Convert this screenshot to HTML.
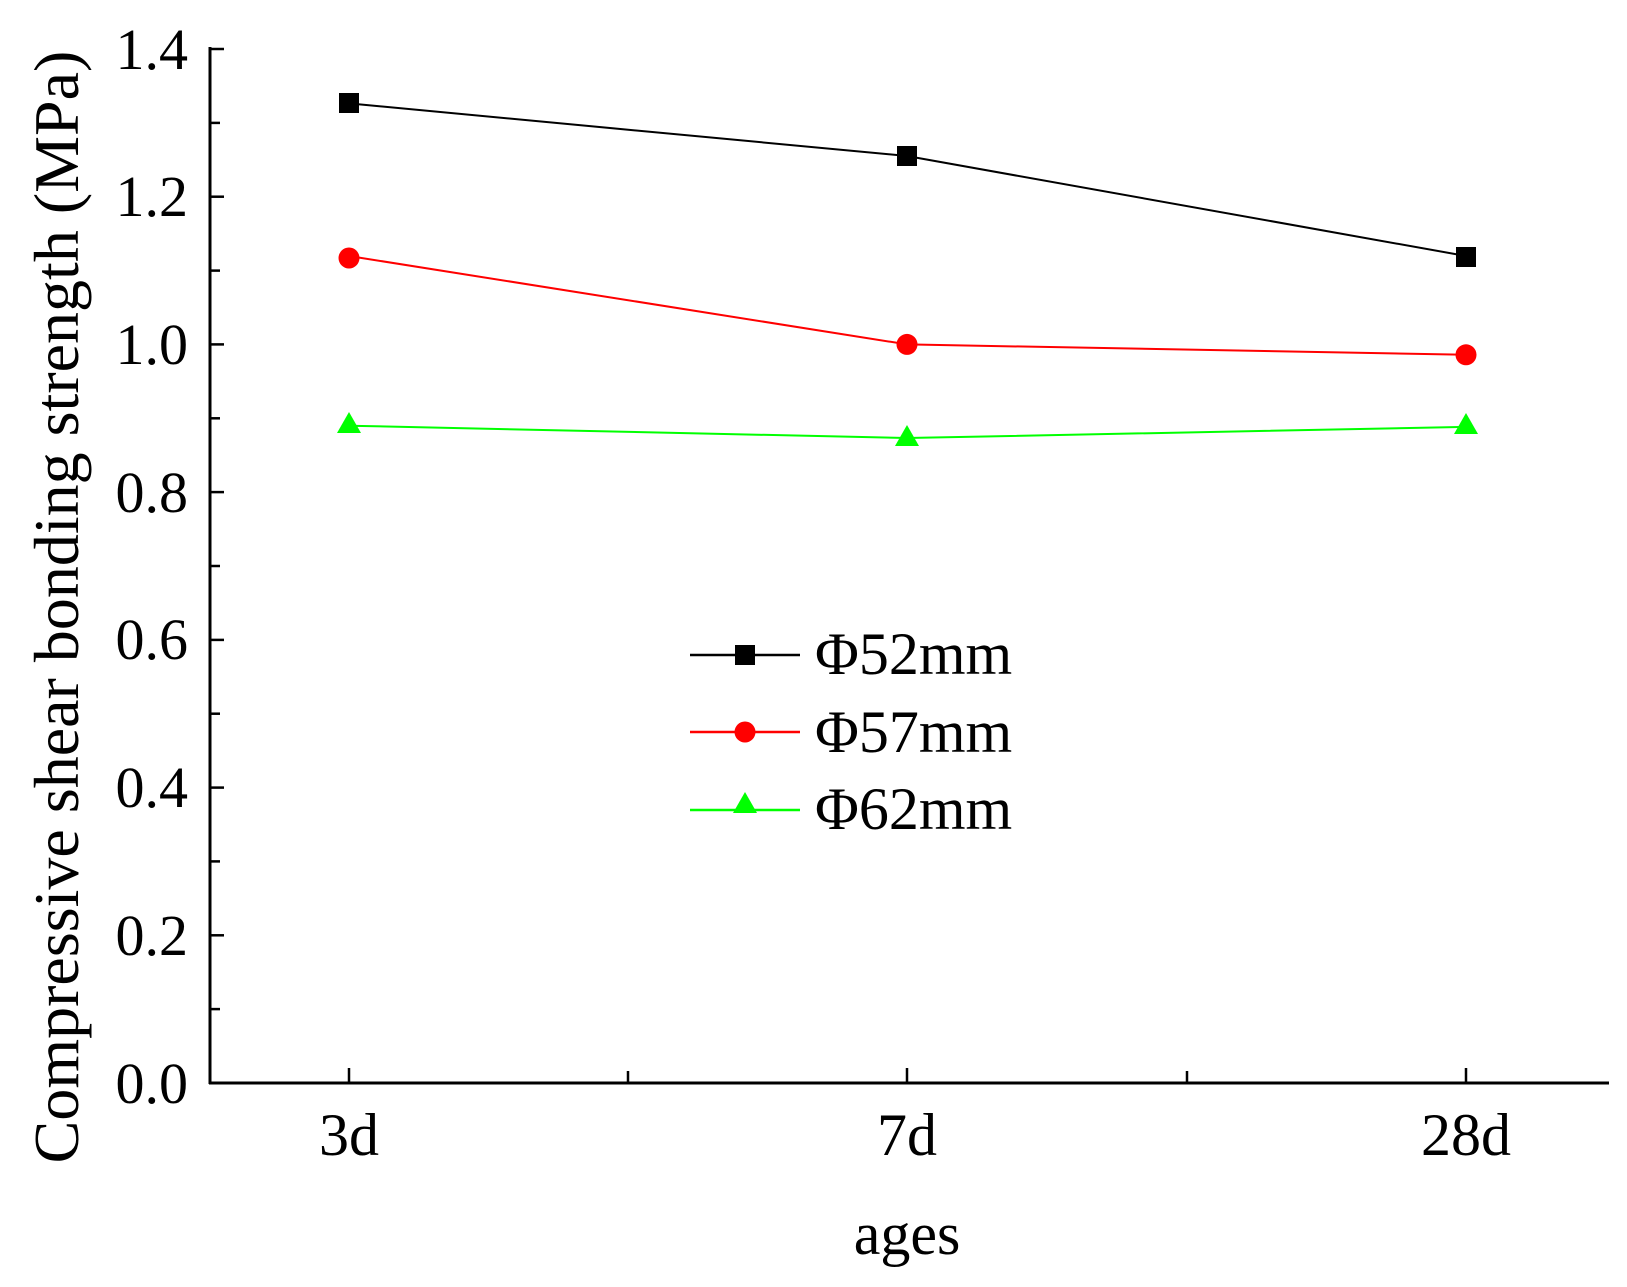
<!DOCTYPE html>
<html><head><meta charset="utf-8"><style>
html,body{margin:0;padding:0;background:#fff;}
svg{display:block;font-family:"Liberation Serif",serif;}
</style></head><body>
<svg width="1627" height="1287" viewBox="0 0 1627 1287" xmlns="http://www.w3.org/2000/svg">
<g stroke="#000" stroke-width="3" fill="none">
<line x1="210" y1="47" x2="210" y2="1084"/>
<line x1="209" y1="1083" x2="1609" y2="1083"/>
</g>
<g stroke="#000" stroke-width="2.5">
<line x1="210" y1="49" x2="224" y2="49"/>
<line x1="210" y1="122.9" x2="220" y2="122.9"/>
<line x1="210" y1="196.7" x2="224" y2="196.7"/>
<line x1="210" y1="270.6" x2="220" y2="270.6"/>
<line x1="210" y1="344.4" x2="224" y2="344.4"/>
<line x1="210" y1="418.3" x2="220" y2="418.3"/>
<line x1="210" y1="492.1" x2="224" y2="492.1"/>
<line x1="210" y1="566" x2="220" y2="566"/>
<line x1="210" y1="639.9" x2="224" y2="639.9"/>
<line x1="210" y1="713.7" x2="220" y2="713.7"/>
<line x1="210" y1="787.6" x2="224" y2="787.6"/>
<line x1="210" y1="861.4" x2="220" y2="861.4"/>
<line x1="210" y1="935.3" x2="224" y2="935.3"/>
<line x1="210" y1="1009.1" x2="220" y2="1009.1"/>
<line x1="349" y1="1083" x2="349" y2="1068"/>
<line x1="628" y1="1083" x2="628" y2="1071"/>
<line x1="907" y1="1083" x2="907" y2="1068"/>
<line x1="1187" y1="1083" x2="1187" y2="1071"/>
<line x1="1466" y1="1083" x2="1466" y2="1068"/>
</g>
<g font-size="58" text-anchor="end" fill="#000">
<text x="188" y="69">1.4</text>
<text x="188" y="216">1.2</text>
<text x="188" y="364">1.0</text>
<text x="188" y="512">0.8</text>
<text x="188" y="659">0.6</text>
<text x="188" y="807">0.4</text>
<text x="188" y="955">0.2</text>
<text x="188" y="1103">0.0</text>
</g>
<g font-size="60" text-anchor="middle" fill="#000">
<text x="349" y="1155">3d</text>
<text x="907" y="1155">7d</text>
<text x="1466" y="1155">28d</text>
<text x="907" y="1254">ages</text>
<text transform="translate(78,607) rotate(-90)" font-size="64">Compressive shear bonding strength (MPa)</text>
</g>
<polyline points="349,103.4 907,156 1466,256" fill="none" stroke="#000" stroke-width="2"/>
<polyline points="349,256 907,344.4 1466,354.8" fill="none" stroke="#f00" stroke-width="2"/>
<polyline points="349,425.7 907,438 1466,426.9" fill="none" stroke="#0f0" stroke-width="2"/>
<g fill="#000">
<rect x="339" y="93" width="20" height="20"/>
<rect x="897" y="146" width="20" height="20"/>
<rect x="1456" y="247" width="20" height="20"/>
</g>
<g fill="#f00">
<circle cx="349" cy="258" r="10.5"/>
<circle cx="907" cy="344.4" r="10.5"/>
<circle cx="1466" cy="354.8" r="10.5"/>
</g>
<g fill="#0f0">
<polygon points="349,412 337,433 361,433"/>
<polygon points="907,425 895,446 919,446"/>
<polygon points="1466,413 1454,434 1478,434"/>
</g>
<g stroke-width="2.5">
<line x1="690" y1="655" x2="800" y2="655" stroke="#000"/>
<line x1="690" y1="732" x2="800" y2="732" stroke="#f00"/>
<line x1="690" y1="810" x2="800" y2="810" stroke="#0f0"/>
</g>
<rect x="735" y="645" width="20" height="20" fill="#000"/>
<circle cx="745" cy="732" r="10.5" fill="#f00"/>
<polygon points="745,792 733,813 757,813" fill="#0f0"/>
<g font-size="60" fill="#000">
<text x="815" y="674">Φ52mm</text>
<text x="815" y="752">Φ57mm</text>
<text x="815" y="829">Φ62mm</text>
</g>
</svg>
</body></html>
